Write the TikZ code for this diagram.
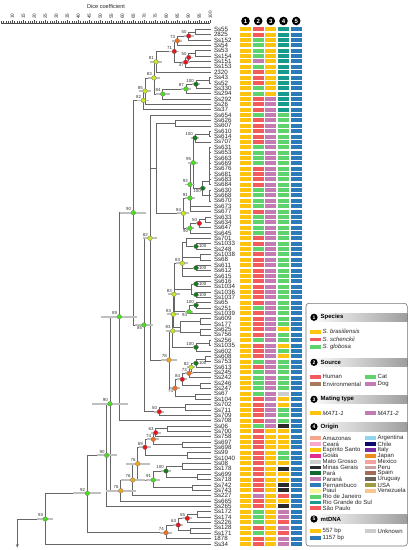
\documentclass[tikz,border=0pt]{standalone}
\usepackage{fontspec}
\setmainfont{Liberation Sans}
\usetikzlibrary{calc,arrows.meta}
\definecolor{cy}{HTML}{FDC30F}
\definecolor{ch}{HTML}{F25A5C}
\definecolor{cc}{HTML}{5ED36C}
\definecolor{cd}{HTML}{C47BB4}
\definecolor{ce}{HTML}{A77A5C}
\definecolor{ct}{HTML}{17998B}
\definecolor{cb}{HTML}{2C7BB9}
\definecolor{ck}{HTML}{2A2A2A}
\definecolor{cg}{HTML}{CDCDCD}
\definecolor{cs}{HTML}{F25A5C}
\definecolor{cp}{HTML}{C47BB0}
\definecolor{oAM}{HTML}{F5A68A}
\definecolor{oCE}{HTML}{F8A8CF}
\definecolor{oGO}{HTML}{E52B8F}
\definecolor{oPA}{HTML}{0E6B2E}
\definecolor{oPI}{HTML}{F8F59B}
\definecolor{oAR}{HTML}{8ED4EF}
\definecolor{oCL}{HTML}{0C0A6A}
\definecolor{oIT}{HTML}{7A2FA0}
\definecolor{oJP}{HTML}{F08A1C}
\definecolor{oMX}{HTML}{F4A3A3}
\definecolor{oPU}{HTML}{C9A3A3}
\definecolor{oSN}{HTML}{A66B55}
\definecolor{oUY}{HTML}{6B625C}
\definecolor{oUS}{HTML}{9D9B3C}
\definecolor{oVE}{HTML}{F9C690}
\definecolor{dR}{HTML}{E8141B}
\definecolor{dO}{HTML}{F07020}
\definecolor{dOY}{HTML}{F2A81D}
\definecolor{dYG}{HTML}{C3EA22}
\definecolor{dG}{HTML}{4ADE1E}
\definecolor{dDG}{HTML}{137A16}
\newcommand\TreeE[2]{\foreach \c in {#2}{\draw[br] (#1) |- (\c);}}
\newcommand\TreeD[5]{\draw[gbar] ($(#1)+(-#5,0)$) -- ($(#1)+(#5,0)$);
  \node[dotn, fill=#2] (d#1) at (#1) {};
  \node[vl, #4] (v#1) at (#1) {#3};}
\newcommand\LegH[3]{\shade[left color=white, right color=black!38] (309,#1-4.3) rectangle (407.3,#1+4.3);
  \node[circle, fill=black, minimum size=7.2pt, inner sep=0pt, text=white, font=\fontsize{5}{5}\selectfont\bfseries] at (314,#1) {#2};
  \node[anchor=west, inner sep=0pt, font=\fontsize{6}{6}\selectfont\bfseries] at (320.5,#1) {#3};}
\newcommand\LegI[4]{\fill[#3] (#1,#2-1.9) rectangle ++(11,3.8);
  \node[anchor=west, inner sep=0pt, font=\fontsize{6}{6}\selectfont, text=black!85] at (#1+12.5,#2) {#4};}
\begin{document}
\begin{tikzpicture}[x=1pt,y=-1pt,
  br/.style={draw=black!60, line width=0.5pt},
  gbar/.style={draw=black!25, line width=1.8pt},
  axl/.style={draw=black!70, line width=0.35pt},
  axn/.style={font=\fontsize{4.6}{4.6}\selectfont, inner sep=0.3pt, text=black!85},
  leaf/.style={anchor=west, inner sep=0pt, font=\fontsize{6.2}{6}\selectfont, text=black!85},
  dotn/.style={circle, inner sep=0pt, minimum size=4.6pt, draw=black!55, line width=0.25pt},
  vl/.style={font=\fontsize{4.4}{4}\selectfont, inner sep=0pt, text=black!80},
  al/.style={anchor=south east, xshift=-2pt, yshift=1.8pt},
  ar/.style={anchor=west, xshift=2.8pt},
  bl/.style={anchor=north east, xshift=-1.8pt, yshift=-1.4pt},
  hc/.style={circle, fill=black, minimum size=8.6pt, inner sep=0pt, text=white, font=\fontsize{6}{6}\selectfont\bfseries}]
\fill[white] (0,0) rectangle (411,550);
\useasboundingbox (0,0) rectangle (411,550);
% axis
\node[font=\fontsize{5.6}{6}\selectfont, text=black!85] (title) at (106,6) {Dice coefficient};
\draw[axl] (1.3,22.7) -- (210.3,22.7);
\foreach \v in {5,...,100}{\draw[axl] ({12.3+(\v-10)*2.2},22.7) -- ++(0,-1.4);}
\foreach \v in {10,15,...,100}{\draw[axl] ({12.3+(\v-10)*2.2},22.7) -- ++(0,-2.6);
  \node[axn, rotate=90, anchor=west] (ax\v) at ({12.3+(\v-10)*2.2},19.4) {\v};}
% column headers
\foreach \k [count=\j] in {245.5,258.2,270.8,283.5,296.2}{\node[hc] (h\j) at (\k,21) {\j};}
% leaves and data
\foreach \n/\s/\m/\o/\t [count=\i] in {
Ss55/ch/cy/ct/cb, 2825/ch/cy/ct/cb, Ss152/cc/cy/ct/cb, Ss54/cc/cy/ct/cb, Ss53/cc/cy/ct/cb,
Ss154/cc/cy/ct/cb, Ss151/cd/cy/ct/cb, Ss153/cc/cy/ct/cb, 2320/ch/cy/ct/cb, Ss43/ch/cy/ct/cb,
Ss52/ch/cy/ct/cb, Ss330/cc/cy/ct/cb, Ss294/cc/cy/ct/cb, Ss292/ch/cd/ct/cb, Ss26/ch/cd/ct/cb,
Ss37/ch/cd/ct/cb, Ss654/cc/cd/cc/cb, Ss626/ch/cd/cc/cb, Ss607/ch/cd/cc/cb, Ss610/ch/cd/cc/cb,
Ss614/ch/cd/cc/cb, Ss707/ch/cd/cc/cb, Ss631/cc/cd/cc/cb, Ss653/cc/cd/cc/cb, Ss663/cc/cd/cc/cb,
Ss669/cc/cd/cc/cb, Ss676/ch/cd/cc/cb, Ss681/ch/cd/cc/cb, Ss683/ch/cd/cc/cb, Ss684/ch/cd/cc/cb,
Ss630/cc/cd/cc/cb, Ss668/cc/cd/cc/cb, Ss670/cc/cd/cc/cb, Ss673/cc/cd/cc/cb, Ss677/ch/cd/cc/cb,
Ss633/cc/cd/cc/cb, Ss634/cc/cd/cc/cb, Ss647/cc/cd/cc/cb, Ss645/cc/cd/cc/cb, Ss701/ch/cd/cc/cb,
Ss1033/ch/cd/cc/cb, Ss248/cc/cd/cc/cb, Ss1038/ch/cd/cc/cb, Ss68/ch/cd/cc/cb, Ss611/ch/cd/cc/cb,
Ss612/ch/cd/cc/cb, Ss615/ch/cd/cc/cb, Ss616/ch/cd/cc/cb, Ss1034/ch/cd/cc/cb, Ss1036/ch/cd/cc/cb,
Ss1037/ch/cd/cc/cb, Ss65/ch/cd/cc/cb, Ss251/cc/cd/cc/cb, Ss1039/ch/cd/cc/cb, Ss609/ch/cd/cc/cb,
Ss177/ch/cd/cc/cb, Ss625/ch/cd/cy/cb, Ss756/ch/cd/cc/cb, Ss256/cc/cd/cc/cb, Ss1035/ch/cd/cy/cb,
Ss602/ch/cd/cc/cb, Ss608/ch/cd/cy/cb, Ss753/cc/cd/cc/cb, Ss613/ch/cd/cc/cb, Ss245/cc/cd/cc/cb,
Ss242/cc/cd/cc/cb, Ss246/cc/cd/cc/cb, Ss247/cc/cd/cc/cb, Ss67/cc/cd/cg/cb, Ss104/ch/cd/cy/cb,
Ss702/ch/cd/cy/cb, Ss711/ch/cd/cc/cb, Ss709/ch/cd/cc/cb, Ss708/ch/cd/cc/cb, Ss06/cc/cd/ck/cb,
Ss700/ch/cy/cy/cb, Ss758/ch/cy/cy/cb, Ss697/ch/cy/cy/cb, Ss698/ch/cy/cy/cb, Ss99/ch/cy/cc/cb,
Ss1040/ch/cy/cc/cb, Ss08/ch/cy/cy/cb, Ss178/ch/cy/ck/cb, Ss699/ch/cy/cy/cb, Ss718/ch/cy/cy/cb,
Ss742/ch/cy/ck/cb, Ss743/ch/cy/ck/cb, Ss227/cd/cy/cs/cb, Ss665/ch/cy/cy/cb, Ss265/ch/cy/ck/cb,
Ss172/cc/cy/cp/cb, Ss174/cc/cy/cp/cb, Ss226/cc/cy/cs/cb, Ss128/ch/cy/cp/cb, Ss171/cc/cy/cs/cb,
1878/ch/cy/cp/cb, Ss34/ch/cy/cp/cb}{
  \pgfmathsetmacro\yy{29.3+(\i-1)*5.36}
  \coordinate (L\i) at (211,\yy);
  \node[leaf] (T\i) at (213.8,\yy) {\n};
  \fill[cy] (240,\yy-2) rectangle ++(11,4);
  \fill[\s] (252.7,\yy-2) rectangle ++(11,4);
  \fill[\m] (265.3,\yy-2) rectangle ++(11,4);
  \fill[\o] (278,\yy-2) rectangle ++(11,4);
  \fill[\t] (290.7,\yy-2) rectangle ++(11,4);
}
% internal nodes
\coordinate (a1) at (195,31.98);
\coordinate (a2) at (188.7,36.0);
\coordinate (a3) at (177.3,40.7);
\coordinate (a4) at (195,53.42);
\coordinate (a5) at (188.7,57.4);
\coordinate (a6) at (185.7,62.1);
\coordinate (a7) at (174.3,51.4);
\coordinate (a8) at (156,61.8);
\coordinate (b1) at (209,80.22);
\coordinate (b2) at (196,84.2);
\coordinate (b3) at (186,88.9);
\coordinate (b4) at (162.7,94.0);
\coordinate (a9) at (154,77.9);
\coordinate (a10) at (145,91.1);
\coordinate (a11) at (143.3,100.4);
\coordinate (k1) at (175,123.1);
\coordinate (b2021) at (209,133.8);
\coordinate (n100t) at (195,137.9);
\coordinate (c1) at (209,181.5);
\coordinate (c2) at (209,195.46);
\coordinate (n100d) at (202.7,188.3);
\coordinate (m95) at (193.3,162.7);
\coordinate (m93) at (190,184.5);
\coordinate (m91) at (190,198.1);
\coordinate (b3637) at (205,219.58);
\coordinate (n50r) at (199.3,223.3);
\coordinate (n90m) at (190,228.3);
\coordinate (n84m) at (183.3,213.3);
\coordinate (kb) at (156,168.2);
\coordinate (n82) at (150,238.3);
\coordinate (ne) at (196,246.4);
\coordinate (m40) at (186,242.5);
\coordinate (p1) at (200,257.1);
\coordinate (na) at (196,267.8);
\coordinate (n83a) at (182.3,263.3);
\coordinate (nb) at (196,283.9);
\coordinate (nc) at (196,294.6);
\coordinate (R1) at (191,289.3);
\coordinate (nd) at (196,305.3);
\coordinate (n94) at (189,311.7);
\coordinate (n83b) at (174,294.3);
\coordinate (b5556) at (200,321.4);
\coordinate (b5758) at (200,332.1);
\coordinate (x55) at (180,326.8);
\coordinate (n83c) at (173.3,314.3);
\coordinate (b5960) at (209,342.9);
\coordinate (n100e) at (196,347.3);
\coordinate (n83d) at (172.7,331);
\coordinate (p6263) at (205,358.9);
\coordinate (n100f) at (196,363.3);
\coordinate (n82b) at (191,367.3);
\coordinate (n73b) at (189,373.3);
\coordinate (p66) at (200,385.7);
\coordinate (n84r) at (182.3,379.3);
\coordinate (p67) at (195,396.5);
\coordinate (n74a) at (175,388.3);
\coordinate (n78) at (169,360);
\coordinate (q71) at (185,407.2);
\coordinate (n50b) at (159.3,411.7);
\coordinate (n85) at (144,325);
\coordinate (n90a) at (133.3,212.7);
\coordinate (n89) at (119.3,316.7);
\coordinate (b7576) at (167,428.6);
\coordinate (n63a) at (155.7,432.7);
\coordinate (b7879) at (182,444.7);
\coordinate (no) at (153.3,439.3);
\coordinate (b8081) at (187,455.4);
\coordinate (n69) at (145,447.3);
\coordinate (b8283) at (182,466.1);
\coordinate (b8485) at (197,476.9);
\coordinate (n100g) at (166,471);
\coordinate (b8687) at (192,487.6);
\coordinate (ng) at (153.3,480);
\coordinate (n76b) at (137.7,463.7);
\coordinate (n76c) at (132.7,480);
\coordinate (n76d) at (120.7,490.7);
\coordinate (n90b) at (110,403.7);
\coordinate (n90c) at (106.7,455.3);
\coordinate (b9192) at (197,514.4);
\coordinate (n55) at (187.3,518.3);
\coordinate (b9495) at (190,530.5);
\coordinate (n63b) at (178.3,525);
\coordinate (n74b) at (166,532.7);
\coordinate (r92) at (87.3,493.3);
\coordinate (r93) at (45.3,519);
\coordinate (root) at (17.3,519);
\coordinate (rootend) at (17.3,547.5);
% edges
\TreeE{a1}{L1,L2}
\TreeE{a2}{a1,L3}
\TreeE{a3}{a2,L4}
\TreeE{a4}{L5,L6}
\TreeE{a5}{a4,L7}
\TreeE{a6}{a5,L8}
\TreeE{a7}{a3,a6}
\TreeE{a8}{a7,L9}
\TreeE{b1}{L10,L11}
\TreeE{b2}{b1,L12}
\TreeE{b3}{b2,L13}
\TreeE{b4}{b3,L14}
\TreeE{a9}{a8,b4}
\TreeE{a10}{a9,L15}
\TreeE{a11}{a10,L16}
\TreeE{k1}{L18,L19}
\TreeE{b2021}{L20,L21}
\TreeE{n100t}{b2021,L22}
\TreeE{c1}{L23,L24,L25,L26,L27,L28,L29,L30}
\TreeE{c2}{L31,L32,L33}
\TreeE{n100d}{c1,c2}
\TreeE{m95}{n100t,n100d}
\TreeE{m93}{m95,L34}
\TreeE{m91}{m93,L35}
\TreeE{b3637}{L36,L37}
\TreeE{n50r}{b3637,L38}
\TreeE{n90m}{n50r,L39}
\TreeE{n84m}{m91,n90m}
\TreeE{kb}{k1,n84m}
\TreeE{n82}{L17,kb,n78}
\TreeE{ne}{L41,L42}
\TreeE{m40}{L40,ne}
\TreeE{p1}{L43,L44}
\TreeE{na}{L45,L46}
\TreeE{n83a}{m40,p1,na,L47}
\TreeE{nb}{L48,L49}
\TreeE{nc}{L50,L51}
\TreeE{R1}{nb,nc}
\TreeE{nd}{L52,L53}
\TreeE{n94}{nd,L54}
\TreeE{n83b}{n83a,R1,n94}
\TreeE{b5556}{L55,L56}
\TreeE{b5758}{L57,L58}
\TreeE{x55}{b5556,b5758}
\TreeE{n83c}{n83b,x55}
\TreeE{b5960}{L59,L60}
\TreeE{n100e}{b5960,L61}
\TreeE{n83d}{n83c,n100e}
\TreeE{p6263}{L62,L63}
\TreeE{n100f}{p6263,L64}
\TreeE{n82b}{n100f,L65}
\TreeE{n73b}{n82b,L66}
\TreeE{p66}{L67,L68}
\TreeE{n84r}{n73b,p66}
\TreeE{p67}{L69,L70}
\TreeE{n74a}{n84r,p67}
\TreeE{n78}{n83d,n74a}
\TreeE{q71}{L71,L72}
\TreeE{n50b}{q71,L73}
\TreeE{n85}{n82,n50b}
\TreeE{n90a}{a11,n85}
\TreeE{n89}{n90a,L74}
\TreeE{b7576}{L75,L76}
\TreeE{n63a}{b7576,L77}
\TreeE{b7879}{L78,L79}
\TreeE{no}{n63a,b7879}
\TreeE{b8081}{L80,L81}
\TreeE{n69}{no,b8081}
\TreeE{b8283}{L82,L83}
\TreeE{b8485}{L84,L85}
\TreeE{n100g}{b8283,b8485}
\TreeE{b8687}{L86,L87}
\TreeE{ng}{n100g,b8687}
\TreeE{n76b}{n69,ng}
\TreeE{n76c}{n76b,L88}
\TreeE{n76d}{n76c,L89}
\TreeE{n90b}{n89,n76d}
\TreeE{n90c}{n90b,L90}
\TreeE{b9192}{L91,L92}
\TreeE{n55}{b9192,L93}
\TreeE{b9495}{L94,L95}
\TreeE{n63b}{n55,b9495}
\TreeE{n74b}{n63b,L96}
\TreeE{r92}{n90c,n74b}
\TreeE{r93}{r92,L97}
\draw[br] (r93) -- (root);
\draw[br, -{Stealth[length=3.4pt,width=3pt]}] (root) -- (rootend);
% dots
\TreeD{a2}{dR}{50}{al}{5}
\TreeD{a3}{dO}{73}{al}{5}
\TreeD{a5}{dR}{50}{al}{4}
\TreeD{a6}{dR}{47}{bl}{4}
\TreeD{a7}{dR}{71}{al}{5}
\TreeD{a8}{dYG}{81}{al}{6}
\TreeD{b2}{dDG}{100}{al}{4}
\TreeD{b3}{dG}{87}{al}{5}
\TreeD{b4}{dG}{84}{al}{7}
\TreeD{a9}{dYG}{83}{al}{6}
\TreeD{a10}{dYG}{85}{al}{6}
\TreeD{a11}{dYG}{82}{al}{6}
\TreeD{n100t}{dDG}{100}{al}{4}
\TreeD{n100d}{dDG}{100}{bl}{3}
\TreeD{m95}{dG}{95}{al}{5}
\TreeD{m93}{dG}{93}{al}{5}
\TreeD{m91}{dG}{91}{al}{5}
\TreeD{n84m}{dYG}{84}{al}{6}
\TreeD{n50r}{dR}{50}{al}{3}
\TreeD{n90m}{dG}{90}{bl}{4}
\TreeD{n82}{dYG}{82}{al}{7}
\TreeD{ne}{dDG}{100}{ar}{3}
\TreeD{n83a}{dYG}{83}{al}{6}
\TreeD{na}{dDG}{100}{ar}{3}
\TreeD{nb}{dDG}{100}{ar}{3}
\TreeD{nc}{dDG}{100}{ar}{3}
\TreeD{nd}{dDG}{100}{al}{3}
\TreeD{n94}{dG}{94}{bl}{4}
\TreeD{n83b}{dYG}{83}{al}{6}
\TreeD{n83c}{dYG}{83}{al}{6}
\TreeD{n83d}{dYG}{83}{al}{7}
\TreeD{n100e}{dDG}{100}{al}{3}
\TreeD{n78}{dOY}{78}{al}{8}
\TreeD{n100f}{dDG}{100}{ar}{3}
\TreeD{n82b}{dYG}{82}{al}{4}
\TreeD{n73b}{dO}{73}{al}{4}
\TreeD{n84r}{dR}{84}{al}{5}
\TreeD{n74a}{dO}{74}{bl}{5}
\TreeD{n50b}{dR}{50}{al}{5}
\TreeD{n85}{dG}{85}{bl}{9}
\TreeD{n90a}{dG}{90}{al}{13}
\TreeD{n89}{dG}{89}{al}{18}
\TreeD{n63a}{dR}{63}{al}{5}
\TreeD{no}{dO}{74}{al}{6}
\TreeD{n69}{dR}{69}{al}{6}
\TreeD{n100g}{dDG}{100}{al}{5}
\TreeD{ng}{dG}{91}{al}{7}
\TreeD{n76b}{dOY}{76}{al}{12}
\TreeD{n76c}{dOY}{76}{al}{12}
\TreeD{n76d}{dOY}{76}{al}{15}
\TreeD{n90b}{dG}{90}{al}{18}
\TreeD{n90c}{dG}{90}{al}{10}
\TreeD{n55}{dR}{55}{al}{5}
\TreeD{n63b}{dR}{63}{al}{5}
\TreeD{n74b}{dO}{74}{al}{6}
\TreeD{r92}{dG}{92}{al}{14}
\TreeD{r93}{dG}{93}{al}{8}
% legend
\LegH{317.3}{1}{Species}
\LegI{310}{331.7}{cy}{\itshape S. brasiliensis}
\LegI{310}{339.4}{ch}{\itshape S. schenckii}
\LegI{310}{347.1}{cc}{\itshape S. globosa}
\LegH{362.3}{2}{Source}
\LegI{310}{376.7}{ch}{Human}
\LegI{310}{384.2}{ce}{Environmental}
\LegI{365}{376.7}{cc}{Cat}
\LegI{365}{384.2}{cd}{Dog}
\LegH{399.3}{3}{Mating type}
\LegI{310}{413.3}{cy}{\itshape MAT1-1}
\LegI{365}{413.3}{cd}{\itshape MAT1-2}
\LegH{426.7}{4}{Origin}
\foreach \c/\t [count=\j from 0] in {oAM/Amazonas, oCE/Ceará, cy/Espírito Santo, oGO/Goiás, cg/Mato Grosso, ck/Minas Gerais, oPA/Pará, cp/Paraná, cb/Pernambuco, oPI/Piauí, cc/Rio de Janeiro, ct/Rio Grande do Sul, ch/São Paulo}{\LegI{310}{438.3+\j*5.83}{\c}{\t}}
\foreach \c/\t [count=\j from 0] in {oAR/Argentina, oCL/Chile, oIT/Italy, oJP/Japan, oMX/Mexico, oPU/Peru, oSN/Spain, oUY/Uruguay, oUS/USA, oVE/Venezuela}{\LegI{365}{438.3+\j*5.83}{\c}{\t}}
\LegH{519}{5}{mtDNA}
\LegI{310}{531}{cy}{557 bp}
\LegI{310}{538}{cb}{1157 bp}
\LegI{365}{531}{cg}{Unknown}
\draw[black!55, line width=0.6pt, rounded corners=3pt] (306,303.3) rectangle (407.3,546);
\end{tikzpicture}
\end{document}
